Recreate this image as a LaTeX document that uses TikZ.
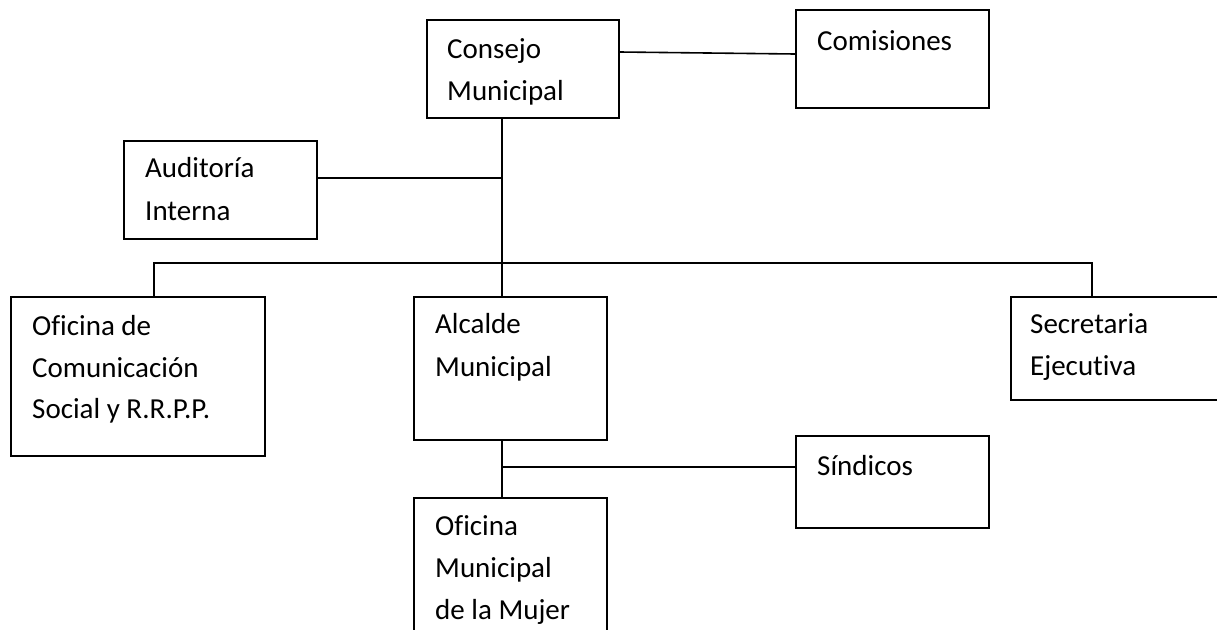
\documentclass[tikz,border=0pt]{standalone}
\usepackage{fontspec}
\setmainfont{Carlito}[Ligatures=NoCommon]
\begin{document}
\begin{tikzpicture}[x=1pt,y=-1pt,
  box/.style={draw, line width=1.6pt, rectangle, inner sep=0pt, anchor=north west},
  lbl/.style={anchor=base west, inner sep=0pt, font=\fontsize{29}{42}\selectfont},
  conn/.style={line width=1.6pt}]
\useasboundingbox (0,0) rectangle (1217,629);
\clip (0,0) rectangle (1217,629);
\fill[white] (0,0) rectangle (1217,629);
% boxes
\node[box, minimum width=192pt, minimum height=98pt] (consejo) at (426,19) {};
\node[box, minimum width=193pt, minimum height=98pt] (comisiones) at (795,9) {};
\node[box, minimum width=193pt, minimum height=98pt] (auditoria) at (123,140) {};
\node[box, minimum width=254pt, minimum height=159pt] (comunicacion) at (10,296) {};
\node[box, minimum width=193pt, minimum height=143pt] (alcalde) at (413,296) {};
\node[box, minimum width=230pt, minimum height=103pt] (secretaria) at (1010,296) {};
\node[box, minimum width=193pt, minimum height=92pt] (sindicos) at (795,435) {};
\node[box, minimum width=193pt, minimum height=150pt] (mujer) at (413,497) {};
% texts
\node[lbl] (t1) at (447,58) {Consejo};
\node[lbl] (t2) at (447,100) {Municipal};
\node[lbl] (t3) at (817,50) {Comisiones};
\node[lbl] (t4) at (145,177) {Auditoría};
\node[lbl] (t5) at (145,220) {Interna};
\node[lbl] (t6) at (32,335) {Oficina de};
\node[lbl] (t7) at (32,377) {Comunicación};
\node[lbl] (t8) at (32,418) {Social y R.R.P.P.};
\node[lbl] (t9) at (435,333) {Alcalde};
\node[lbl] (t10) at (435,376) {Municipal};
\node[lbl] (t11) at (1030,333) {Secretaria};
\node[lbl] (t12) at (1030,375) {Ejecutiva};
\node[lbl] (t13) at (817,475) {Síndicos};
\node[lbl] (t14) at (435,535) {Oficina};
\node[lbl] (t15) at (435,577) {Municipal};
\node[lbl] (t16) at (435,619) {de la Mujer};
% junctions
\coordinate (jc) at (502,52);
\coordinate (jd) at (502,54);
\coordinate (ja) at (502,178);
\coordinate (jb) at (502,263);
\coordinate (bl) at (154,263);
\coordinate (br) at (1092,263);
\coordinate (js) at (502,467);
% connectors
\draw[conn] (consejo.east |- jc) -- (comisiones.west |- jd);
\draw[conn] (consejo.south -| ja) -- (alcalde.north -| ja);
\draw[conn] (auditoria.east |- ja) -- (ja);
\draw[conn] (comunicacion.north -| bl) -- (bl) -- (br) -- (secretaria.north -| br);
\draw[conn] (alcalde.south -| js) -- (mujer.north -| js);
\draw[conn] (js) -- (sindicos.west |- js);
\end{tikzpicture}
\end{document}
